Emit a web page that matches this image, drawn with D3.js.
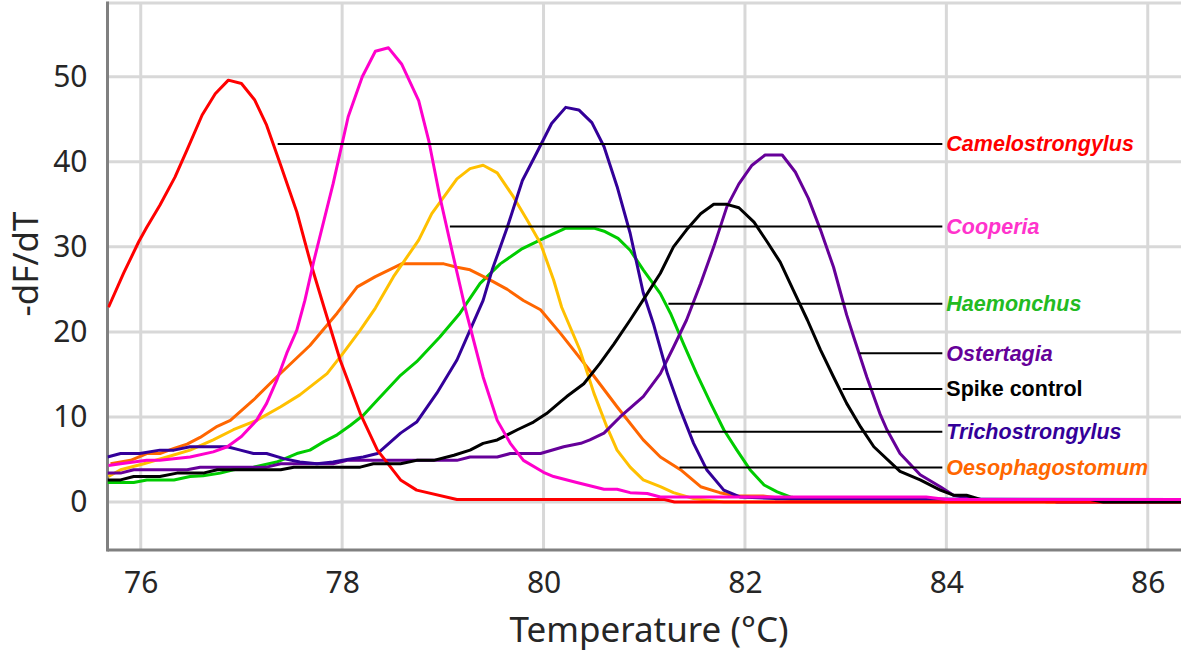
<!DOCTYPE html>
<html>
<head>
<meta charset="utf-8">
<script src="https://cdn.jsdelivr.net/npm/d3@7"></script>
<style>
  html, body { margin: 0; padding: 0; background: #fff; }
  svg { display: block; }
</style>
</head>
<body>
<svg id="chart" width="1181" height="654"></svg>
<script>
// ---------- DATA ----------
const xTicks = [76, 78, 80, 82, 84, 86];
const yTicks = [0, 10, 20, 30, 40, 50];

const camelostrongylus = [[75.68,22.9],[75.83,26.9],[75.98,30.6],[76.06,32.3],[76.19,34.9],[76.34,38.2],[76.46,41.4],[76.61,45.5],[76.74,48.0],[76.87,49.6],[77.00,49.2],[77.13,47.3],[77.25,44.3],[77.39,39.6],[77.55,34.1],[77.68,28.4],[77.82,22.9],[77.98,16.7],[78.18,10.4],[78.35,6.1],[78.58,2.6],[78.74,1.4],[79.14,0.3],[81.2,0.3],[81.3,0.0],[86.33,0.0]];
const cooperia = [[75.68,4.3],[75.80,4.5],[76.06,4.9],[76.19,4.9],[76.49,5.3],[76.72,5.9],[76.86,6.5],[77.00,7.7],[77.15,9.6],[77.25,11.6],[77.35,14.3],[77.45,17.5],[77.55,20.2],[77.63,23.7],[77.72,28.4],[77.91,37.4],[78.06,45.3],[78.20,50.0],[78.33,53.0],[78.46,53.4],[78.59,51.5],[78.76,47.2],[78.86,42.5],[78.97,35.9],[79.09,29.6],[79.22,22.9],[79.40,14.7],[79.54,9.6],[79.67,6.9],[79.80,4.9],[80.00,3.5],[80.10,3.0],[80.33,2.3],[80.60,1.5],[80.73,1.5],[80.86,1.1],[81.03,1.0],[81.16,0.6],[83.8,0.6],[84.0,0.3],[86.33,0.3]];
const oesophagostomum = [[75.70,4.5],[75.90,4.9],[76.06,5.7],[76.19,5.7],[76.33,6.3],[76.46,6.8],[76.59,7.6],[76.76,8.9],[76.89,9.6],[77.12,12.0],[77.35,14.7],[77.68,18.4],[77.95,22.2],[78.15,25.3],[78.33,26.5],[78.59,28.0],[79.01,28.0],[79.14,27.6],[79.27,27.3],[79.44,26.3],[79.64,25.0],[79.80,23.7],[79.97,22.6],[80.17,19.8],[80.43,15.9],[80.73,11.2],[80.99,7.3],[81.16,5.3],[81.36,3.8],[81.56,1.8],[81.75,1.1],[81.92,0.7],[82.18,0.7],[82.45,0.3],[84.9,0.3],[85.0,0.0],[86.33,0.0]];
const yellowSeries = [[75.68,3.0],[75.80,3.8],[76.03,4.5],[76.26,5.3],[76.49,6.1],[76.72,7.3],[76.92,8.5],[77.15,9.6],[77.39,11.2],[77.58,12.6],[77.85,15.1],[78.01,17.5],[78.18,20.2],[78.33,22.8],[78.51,26.5],[78.76,30.8],[78.89,33.9],[79.14,38.0],[79.27,39.2],[79.40,39.6],[79.54,38.7],[79.70,35.9],[79.84,33.1],[79.97,30.4],[80.10,26.1],[80.18,22.9],[80.36,17.9],[80.50,12.8],[80.63,8.8],[80.73,6.1],[80.86,4.1],[80.99,2.6],[81.16,1.8],[81.29,1.1],[81.49,0.4],[81.79,0.0],[86.33,0.0]];
const haemonchus = [[75.67,2.3],[75.93,2.3],[76.06,2.6],[76.33,2.6],[76.49,3.0],[76.62,3.1],[76.79,3.4],[76.92,3.8],[77.12,4.1],[77.35,4.7],[77.55,5.7],[77.68,6.1],[77.82,7.1],[77.95,7.9],[78.08,9.0],[78.21,10.2],[78.35,12.0],[78.58,14.9],[78.74,16.5],[78.97,19.4],[79.17,22.2],[79.37,25.7],[79.57,28.0],[79.79,29.8],[80.00,31.0],[80.22,32.2],[80.50,32.2],[80.61,31.8],[80.74,31.0],[80.86,29.6],[80.99,27.3],[81.16,24.5],[81.26,22.2],[81.39,18.6],[81.52,15.1],[81.66,11.6],[81.79,8.5],[81.92,6.1],[82.05,3.8],[82.19,2.0],[82.32,1.2],[82.45,0.6],[82.6,0.3],[86.33,0.3]];
const trichostrongylus = [[75.67,5.3],[75.80,5.7],[75.99,5.7],[76.19,6.1],[76.33,6.1],[76.49,6.5],[76.86,6.5],[76.99,6.1],[77.12,5.7],[77.25,5.7],[77.42,5.1],[77.58,4.7],[77.75,4.5],[77.91,4.7],[78.05,5.0],[78.21,5.3],[78.35,5.7],[78.58,8.1],[78.74,9.4],[78.94,12.8],[79.14,16.7],[79.27,20.2],[79.40,23.7],[79.49,27.3],[79.64,32.3],[79.79,37.8],[79.93,41.0],[80.08,44.5],[80.22,46.4],[80.35,46.1],[80.48,44.6],[80.60,41.8],[80.73,37.1],[80.86,31.6],[80.99,24.6],[81.09,21.0],[81.23,15.1],[81.36,10.8],[81.49,6.9],[81.62,3.8],[81.79,1.4],[81.95,0.6],[82.3,0.4],[86.33,0.3]];
const spikeControl = [[75.67,2.6],[75.80,2.6],[75.93,3.0],[76.19,3.0],[76.36,3.4],[76.62,3.4],[76.76,3.8],[77.39,3.8],[77.52,4.1],[78.18,4.1],[78.31,4.5],[78.58,4.5],[78.74,4.9],[78.91,4.9],[79.11,5.5],[79.27,6.1],[79.40,6.9],[79.54,7.3],[79.74,8.5],[79.90,9.4],[80.03,10.4],[80.17,11.8],[80.23,12.4],[80.40,13.9],[80.56,16.3],[80.70,18.6],[80.86,21.4],[81.03,24.5],[81.16,26.9],[81.29,30.0],[81.42,32.0],[81.56,33.9],[81.69,35.0],[81.82,35.0],[81.94,34.6],[82.09,32.9],[82.22,30.6],[82.35,28.2],[82.48,24.9],[82.62,21.4],[82.75,17.9],[82.88,14.7],[83.01,11.6],[83.15,8.8],[83.28,6.5],[83.54,3.6],[83.74,2.6],[83.94,1.4],[84.07,0.8],[84.20,0.8],[84.34,0.3],[85.43,0.3],[85.56,0.0],[86.33,0.0]];
const ostertagia = [[75.67,3.4],[75.80,3.4],[75.93,3.8],[76.46,3.8],[76.59,4.1],[77.25,4.1],[77.39,4.5],[77.91,4.5],[78.05,4.9],[79.14,4.9],[79.27,5.3],[79.54,5.3],[79.67,5.7],[79.97,5.7],[80.20,6.5],[80.37,6.9],[80.46,7.3],[80.60,8.1],[80.76,10.0],[80.99,12.4],[81.16,15.1],[81.29,18.2],[81.42,21.4],[81.56,25.7],[81.69,30.0],[81.82,34.7],[81.94,37.4],[82.07,39.6],[82.20,40.8],[82.37,40.8],[82.50,38.8],[82.63,35.7],[82.75,32.0],[82.88,27.6],[83.01,22.0],[83.08,19.4],[83.21,14.7],[83.34,10.4],[83.41,8.5],[83.54,5.7],[83.74,3.2],[83.94,1.8],[84.07,0.8],[84.3,0.3],[85.0,0.3],[85.1,0.0],[86.33,0.0]];

const seriesNames  = ["Haemonchus", "Oesophagostomum", "Yellow", "Ostertagia", "Trichostrongylus", "Camelostrongylus", "Spike control", "Cooperia"];
const seriesData   = [haemonchus, oesophagostomum, yellowSeries, ostertagia, trichostrongylus, camelostrongylus, spikeControl, cooperia];
const seriesColors = ["#00CC00", "#FF6600", "#FFC000", "#660099", "#330099", "#FF0000", "#000000", "#FF00CC"];

// Labels with leader lines
const labelNames   = ["Camelostrongylus", "Cooperia", "Haemonchus", "Ostertagia", "Spike control", "Trichostrongylus", "Oesophagostomum"];
const labelColors  = ["#FF0000", "#FF33CC", "#22BB22", "#660099", "#000000", "#330099", "#FF6600"];
const labelItalic  = [true, true, true, true, false, true, true];
const labelY       = [42.1, 32.4, 23.3, 17.5, 13.3, 8.25, 4.05];
const labelStartX  = [77.36, 79.07, 81.24, 83.14, 82.97, 81.46, 81.35];
const labelEndX    = 83.96;

// ---------- LAYOUT ----------
const svg = d3.select("#chart");
const pLeft = 107.5, pRight = 1181, pTop = 3, pBottom = 550;

const x = d3.scaleLinear().domain([75.67, 86.33]).range([pLeft, pRight]);
const y = d3.scaleLinear().domain([-5.64, 58.67]).range([pBottom, pTop]);

// grid
const grid = svg.append("g");
grid.selectAll("line.v").data(xTicks).join("line").attr("class", "v")
  .attr("x1", d => x(d)).attr("x2", d => x(d))
  .attr("y1", pTop).attr("y2", pBottom)
  .attr("stroke", "#d8d8d8").attr("stroke-width", 3);
grid.selectAll("line.h").data(yTicks).join("line").attr("class", "h")
  .attr("x1", pLeft).attr("x2", pRight)
  .attr("y1", d => y(d)).attr("y2", d => y(d))
  .attr("stroke", "#d8d8d8").attr("stroke-width", 3);
grid.append("line")
  .attr("x1", pLeft).attr("x2", pRight).attr("y1", pTop).attr("y2", pTop)
  .attr("stroke", "#d8d8d8").attr("stroke-width", 3);

// axes
const fontFam = "'Noto Sans', 'DejaVu Sans', sans-serif";
const xAxis = svg.append("g").attr("transform", `translate(0,${pBottom})`)
  .call(d3.axisBottom(x).tickValues(xTicks).tickSize(0).tickPadding(22).tickFormat(d3.format("d")));
const yAxis = svg.append("g").attr("transform", `translate(${pLeft},0)`)
  .call(d3.axisLeft(y).tickValues(yTicks).tickSize(0).tickPadding(20).tickFormat(d3.format("d")));
[xAxis, yAxis].forEach(a => {
  a.select(".domain").remove();
  a.selectAll("text").attr("font-family", fontFam).attr("font-size", 30).attr("fill", "#262626");
});
svg.append("line").attr("x1", pLeft).attr("x2", pLeft).attr("y1", pTop - 1.5).attr("y2", pBottom + 1.5)
  .attr("stroke", "#808080").attr("stroke-width", 3);
svg.append("line").attr("x1", pLeft).attr("x2", pRight).attr("y1", pBottom).attr("y2", pBottom)
  .attr("stroke", "#808080").attr("stroke-width", 3);

// axis titles
svg.append("text").attr("x", 649).attr("y", 642)
  .attr("text-anchor", "middle").attr("font-family", fontFam).attr("font-size", 35).attr("fill", "#262626")
  .text("Temperature (°C)");
svg.append("text").attr("transform", "translate(38,264) rotate(-90)")
  .attr("text-anchor", "middle").attr("font-family", fontFam).attr("font-size", 35).attr("fill", "#262626")
  .text("-dF/dT");

// curves
svg.append("clipPath").attr("id", "plotclip").append("rect")
  .attr("x", pLeft).attr("y", pTop).attr("width", pRight - pLeft).attr("height", pBottom - pTop);
const line = d3.line().x(d => x(d[0])).y(d => y(d[1]));
svg.append("g").attr("clip-path", "url(#plotclip)")
  .selectAll("path").data(seriesData).join("path")
  .attr("d", line)
  .attr("fill", "none")
  .attr("stroke", (d, i) => seriesColors[i])
  .attr("stroke-width", 3)
  .attr("stroke-linejoin", "round");

// leader lines & labels
const lab = svg.append("g");
lab.selectAll("line").data(labelNames).join("line")
  .attr("x1", (d, i) => x(labelStartX[i])).attr("x2", x(labelEndX))
  .attr("y1", (d, i) => y(labelY[i])).attr("y2", (d, i) => y(labelY[i]))
  .attr("stroke", "#000").attr("stroke-width", 2);
lab.selectAll("text").data(labelNames).join("text")
  .attr("x", x(labelEndX) + 4)
  .attr("y", (d, i) => y(labelY[i]) + 7.5)
  .attr("font-family", "'Liberation Sans', Arial, sans-serif")
  .attr("font-size", 21.5).attr("font-weight", "bold")
  .attr("font-style", (d, i) => labelItalic[i] ? "italic" : "normal")
  .attr("fill", (d, i) => labelColors[i])
  .text(d => d);
</script>
</body>
</html>
